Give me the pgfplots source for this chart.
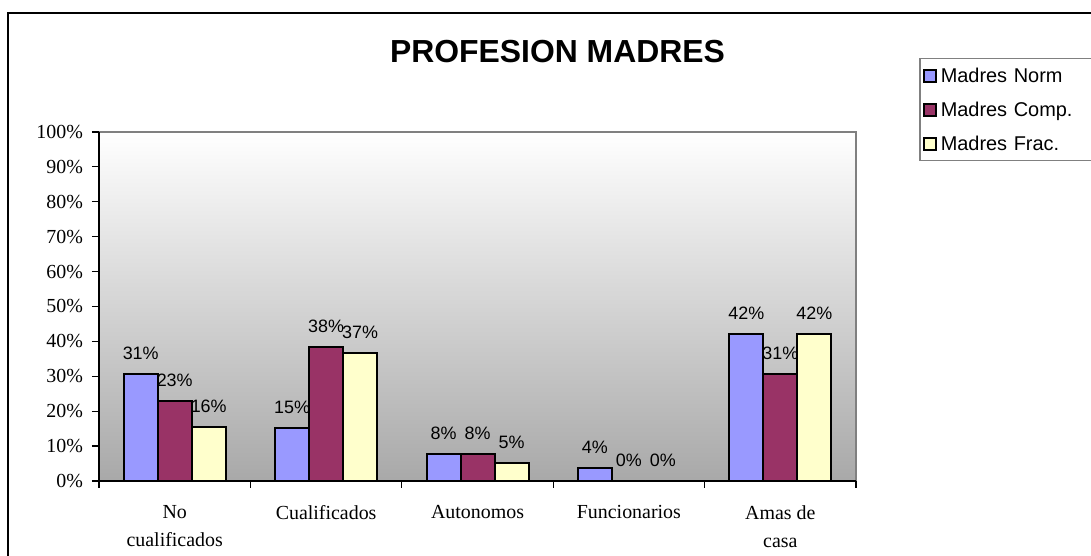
\documentclass[border=0pt]{standalone}
\usepackage{fontspec}
\setmainfont{Liberation Serif}
\newfontfamily\arial{Liberation Sans}
\usepackage{pgfplots}
\usepackage{pgfplotstable}
\pgfplotsset{compat=1.18}
\definecolor{cnorm}{HTML}{9999FF}
\definecolor{ccomp}{HTML}{993366}
\definecolor{cfrac}{HTML}{FFFFCC}
\pgfplotsset{sqlegend/.style={legend image code/.code={\draw[##1,draw=black,line width=2bp] (0bp,-6bp) rectangle (12bp,6bp);}}}
\pgfplotstableread{
x norm comp frac
0 30.7 23.0 15.6
1 15.3 38.3 36.7
2 7.6 7.6 5.1
3 3.8 0 0
4 42.1 30.7 42.1
}\datatable
\begin{document}
\begin{tikzpicture}[x=1bp,y=1bp]
\useasboundingbox (0,0) rectangle (1091,556);
\draw[line width=1.5bp] (8,-10) -- (8,543) -- (1100,543);
\begin{axis}[
  at={(99bp,75bp)}, anchor=south west,
  scale only axis, width=757bp, height=349bp,
  xmin=-0.5, xmax=4.5, ymin=0, ymax=100,
  ybar=0pt, bar width=34bp,
  axis background/.style={top color=white, bottom color=gray!68, draw=gray, line width=2bp},
  axis x line*=bottom, axis y line*=left,
  x axis line style={-, black, line width=1.5bp},
  y axis line style={-, black, line width=1.5bp},
  xtick={0,...,4},
  xticklabels={{No\\cualificados},Cualificados,Autonomos,Funcionarios,{Amas de\\casa}},
  major x tick style={draw=none},
  minor xtick={-0.5,0.5,1.5,2.5,3.5,4.5},
  minor tick length=7bp, major tick length=7bp,
  tick align=outside,
  ytick={0,10,...,100},
  yticklabels={0\%,10\%,20\%,30\%,40\%,50\%,60\%,70\%,80\%,90\%,100\%},
  tick style={black, line width=1.2bp},
  xticklabel style={font=\fontsize{20}{28}\selectfont, align=center, yshift=-14bp},
  yticklabel style={font=\fontsize{20}{24}\selectfont, xshift=-5.5bp},
  /pgf/number format/assume math mode=true,
  nodes near coords={\pgfmathprintnumber[fixed,precision=0]{\pgfplotspointmeta}\%},
  every node near coord/.append style={font=\arial\fontsize{18}{20}\selectfont, anchor=base, yshift=14.5bp, text=black},
  title={PROFESION MADRES},
  title style={font=\arial\bfseries\fontsize{32}{36}\selectfont, at={(0.6057,1.1977)}, anchor=base, yshift=-5bp},
  legend style={at={(1.0832,1.2120)}, anchor=north west, draw=gray, line width=1.5bp,
    font=\arial\fontsize{20}{24}\selectfont, row sep=0pt, inner xsep=3bp, inner ysep=0pt,
    nodes={inner xsep=4bp, inner ysep=0pt, minimum height=34bp, text width=150bp}},
  legend cell align=left,
]
\addplot[fill=cnorm, draw=black, line width=2bp, sqlegend] table[x=x,y=norm]{\datatable};
\addplot[fill=ccomp, draw=black, line width=2bp, sqlegend] table[x=x,y=comp]{\datatable};
\addplot[fill=cfrac, draw=black, line width=2bp, sqlegend] table[x=x,y=frac]{\datatable};
\legend{Madres Norm, Madres Comp., Madres Frac.}
\end{axis}
\end{tikzpicture}
\end{document}
